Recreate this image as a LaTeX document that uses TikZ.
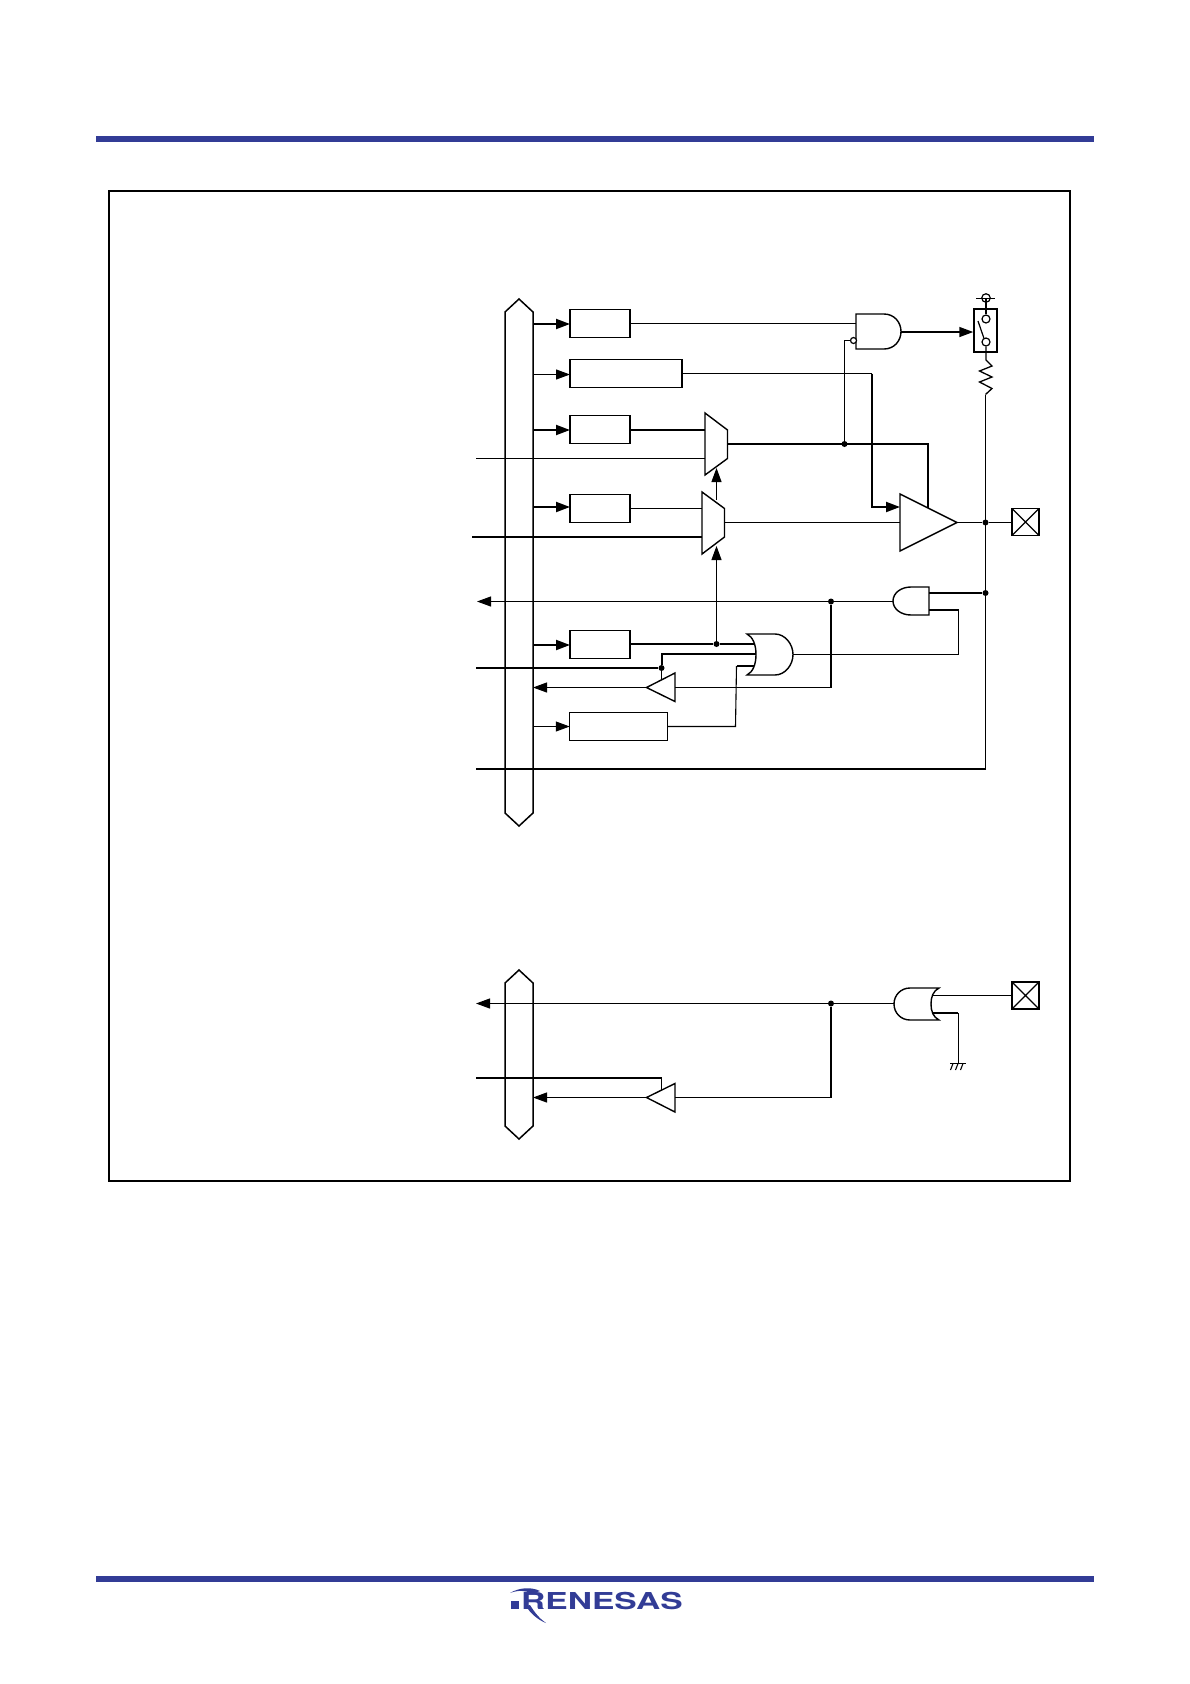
\documentclass[tikz,border=0pt]{standalone}
\usepackage{fontspec}
\setmainfont{TeX Gyre Heros}
\usetikzlibrary{arrows.meta,calc}
\definecolor{renblue}{RGB}{50,60,150}
\tikzset{
  x=1pt,y=-1pt,
  thin wire/.style={line width=1.1pt,line join=miter},
  thick wire/.style={line width=2pt,line join=miter},
  arrowed/.style={-{Triangle[length=14pt,width=10pt]}},
  regbox/.style={draw,line width=1.3pt,minimum height=28pt,inner sep=0pt,outer sep=0pt},
  gate/.style={draw,line width=1.4pt,line join=miter},
  dot/.style={circle,fill=black,draw=none,minimum size=6pt,inner sep=0pt},
  bubble/.style={circle,draw,fill=white,line width=1.2pt,inner sep=0pt},
  padbox/.style={draw,line width=1.6pt,minimum size=27pt,inner sep=0pt,outer sep=0pt},
  rulebar/.style={fill=renblue,draw=none,inner sep=0pt,minimum height=6pt,minimum width=998pt}
}
\begin{document}
\begin{tikzpicture}
\useasboundingbox (0,0) rectangle (1190,1684);
% page furniture
\node[rulebar] (toprule) at (595,139) {};
\node[rulebar] (botrule) at (595,1579) {};
\draw[line width=2pt] (109,191) rectangle (1070,1181);
\node[inner sep=0pt,text=renblue,anchor=base west] (logo) at (521,1609) {\fontsize{23.3}{23.3}\selectfont\bfseries\addfontfeature{FakeStretch=1.44}RENESAS};
\fill[renblue] (511,1601) rectangle (519,1609);
\fill[renblue] (510,1593) .. controls (520,1587) and (532,1587) .. (540,1591) -- (532,1594) .. controls (526,1590) and (518,1590) .. (510,1593) -- cycle;
\fill[renblue] (530,1605) .. controls (535,1613) and (540,1619) .. (546,1623) .. controls (538,1620) and (530,1613) .. (526,1606) -- cycle;

% ---- upper block: bus ----
\draw[line width=1.5pt,line join=miter] (519,299) -- (533,312) -- (533,813) -- (519,826) -- (505,813) -- (505,312) -- cycle;

% registers
\node[regbox,minimum width=60pt] (r1) at (600,323.5) {};
\node[regbox,minimum width=112pt] (r2) at (626,373.5) {};
\node[regbox,minimum width=60pt] (r3) at (600,429.5) {};
\node[regbox,minimum width=60pt] (r4) at (600,508.5) {};
\node[regbox,minimum width=60pt] (r5) at (600,644.5) {};
\node[regbox,minimum width=97.5pt] (r6) at (618.5,726.5) {};

% bus tap points
\coordinate (b1) at (533,324);
\coordinate (b2) at (533,374.5);
\coordinate (b3) at (533,430);
\coordinate (b4) at (533,507);
\coordinate (b5) at (533,645);
\coordinate (b6) at (533,726.5);
\draw[thick wire,arrowed] (b1) -- (b1 -| r1.west);
\draw[thin wire,arrowed] (b2) -- (b2 -| r2.west);
\draw[thick wire,arrowed] (b3) -- (b3 -| r3.west);
\draw[thick wire,arrowed] (b4) -- (b4 -| r4.west);
\draw[thick wire,arrowed] (b5) -- (b5 -| r5.west);
\draw[thin wire,arrowed] (b6) -- (b6 -| r6.west);

% multiplexers
\draw[gate] (705,413) -- (727.5,430) -- (727.5,458.5) -- (705,475) -- cycle;
\draw[gate] (702,492) -- (724.5,508.5) -- (724.5,537) -- (702,554) -- cycle;
\coordinate (m1in1) at (705,430);
\coordinate (m1in2) at (705,458.5);
\coordinate (m1out) at (727.5,444);
\coordinate (m1sel) at (716.5,468);
\coordinate (m2in1) at (702,508.5);
\coordinate (m2in2) at (702,537);
\coordinate (m2out) at (724.5,522.5);
\coordinate (m2top) at (716.5,500);
\coordinate (m2sel) at (716.5,546);

% free ends on the left
\coordinate (ext1) at (476,458.5);
\coordinate (ext2) at (472,537);
\coordinate (ext3) at (477,601.5);
\coordinate (ext4) at (476,668);
\coordinate (ext5) at (476,769);

\draw[thin wire] (r1.east |- 0,323.5) -- (856,323.5);
\draw[thin wire] (r2.east |- 0,373.5) -- (872,373.5) coordinate (c2);
\draw[thick wire] (r3.east |- m1in1) -- (m1in1);
\draw[thin wire] (ext1) -- (m1in2);
\draw[thin wire] (r4.east |- m2in1) -- (m2in1);
\draw[thick wire] (ext2) -- (m2in2);
\draw[thin wire,arrowed] (m2top) -- (m1sel);

% output buffer
\draw[gate] (900,494) -- (957,522.5) -- (900,551) -- cycle;
\coordinate (bufin) at (900,522.5);
\coordinate (bufout) at (957,522.5);
\draw[thick wire,arrowed] (c2) -- (872,507) -- (900,507);
\draw[thick wire] (m1out) -- (928,444) -- (928,508);
\node[dot] (j1) at (844.5,444) {};
\draw[thin wire] (m2out) -- (bufin);

% NAND gate and pull-up
\draw[gate,fill=white] (856,314) -- (884,314) .. controls (894,314) and (901,322) .. (901,331.5) .. controls (901,341) and (894,349) .. (884,349) -- (856,349) -- cycle;
\node[bubble,minimum size=6pt] (nb) at (853.5,340.5) {};
\draw[thin wire] (j1) -- (844.5,340.5) -- (nb);
\coordinate (nout) at (901,332);
\node[draw,line width=1.5pt,minimum width=23pt,minimum height=43pt,inner sep=0pt] (sw) at (985.5,330.5) {};
\draw[line width=1.5pt,arrowed] (nout) -- (sw.west |- nout);
\node[bubble,minimum size=8pt] (sw1) at (986,319) {};
\node[bubble,minimum size=8pt] (sw2) at (986,342) {};
\draw[line width=1.2pt] (978,321) -- (984,338.5);
\node[bubble,fill=none,minimum size=8.5pt] (vdd) at (986,298) {};
\draw[thin wire] (976,298.5) -- (995,298.5);
\draw[thin wire] (vdd.center) -- (sw1);
\draw[line width=1.3pt,line join=miter] (sw2) -- (986,360) -- (992,366) -- (979.5,371) -- (992,377) -- (979.5,382) -- (992,388.5) -- (985.5,394.5);
\draw[thin wire] (985.5,394.5) -- (985.5,769);
\draw[line width=2pt] (986,769) -- (ext5);

% I/O pad
\node[padbox] (pad1) at (1025.5,522) {};
\draw[line width=1.2pt] (pad1.north west) -- (pad1.south east) (pad1.north east) -- (pad1.south west);
\node[dot] (j2) at (985.5,522.5) {};
\draw[thin wire] (bufout) -- (j2) -- (pad1.west |- j2);

% input AND
\draw[gate,fill=white] (929,587) -- (911,587) .. controls (901,587) and (893,593) .. (893,601) .. controls (893,609) and (901,615) .. (911,615) -- (929,615) -- cycle;
\coordinate (aout) at (893,601.5);
\node[dot] (j3) at (985.5,593) {};
\draw[thick wire] (929,593) -- (j3);
\node[dot] (j4) at (831,601.5) {};
\draw[thin wire,arrowed] (aout) -- (ext3);
\draw[thick wire] (j4) -- (831,688);
\draw[thin wire] (831,687.5) -- (675,687.5);

% OR gate
\draw[gate,fill=white] (747,634) .. controls (753,637) and (756,645) .. (756,654.5) .. controls (756,664) and (753,672) .. (747,675) -- (775,675) .. controls (785,675) and (793,665) .. (793,654.5) .. controls (793,644) and (785,634) .. (775,634) -- cycle;
\coordinate (orout) at (793,654.5);
\draw[thin wire] (orout) -- (958.5,654.5) -- (958.5,610);
\draw[thick wire] (959,610) -- (929,610);
\node[dot] (j5) at (716.5,644) {};
\draw[thick wire] (r5.east |- j5) -- (j5) -- (755,644);
\draw[thin wire,arrowed] (j5) -- (m2sel);

% small buffer
\draw[gate] (675,673) -- (675,701.5) -- (646.5,687.5) -- cycle;
\coordinate (sb1) at (646.5,687.5);
\coordinate (b7) at (533,687.5);
\draw[thin wire,arrowed] (sb1) -- (b7);
\node[dot] (j6) at (661.5,668) {};
\draw[thick wire] (ext4) -- (j6);
\draw[thick wire] (755.5,654) -- (661.5,654) -- (j6);
\draw[thin wire] (j6) -- (661.5,679);
\draw[thin wire] (r6.east) -- (735.5,726.5) -- (736.5,666);
\draw[thick wire] (736.5,666) -- (754,666);

% ---- lower block ----
\draw[line width=1.5pt,line join=miter] (519,970) -- (533,983) -- (533,1126) -- (519,1139) -- (505,1126) -- (505,983) -- cycle;
\draw[gate,fill=white] (939,988) -- (910,988) .. controls (901,988) and (894,995) .. (894,1004) .. controls (894,1013) and (901,1020) .. (910,1020) -- (939,1020) .. controls (933,1017) and (931,1011) .. (931,1004) .. controls (931,997) and (933,991) .. (939,988) -- cycle;
\coordinate (g2out) at (894,1003.5);
\coordinate (ext6) at (476,1003.5);
\draw[thin wire,arrowed] (g2out) -- (ext6);
\node[dot] (j7) at (831,1003.5) {};
\draw[gate] (675,1083.5) -- (675,1112) -- (646.5,1097.5) -- cycle;
\draw[thick wire] (j7) -- (831,1098);
\draw[thin wire] (831,1097.5) -- (675,1097.5);
\coordinate (sb2) at (646.5,1097.5);
\coordinate (b8) at (533,1097.5);
\draw[thin wire,arrowed] (sb2) -- (b8);
\coordinate (ext7) at (476,1078);
\draw[thick wire] (ext7) -- (661.5,1078);
\draw[thin wire] (661.5,1078) -- (661.5,1090);
\node[padbox] (pad2) at (1025.5,995.5) {};
\draw[line width=1.2pt] (pad2.north west) -- (pad2.south east) (pad2.north east) -- (pad2.south west);
\draw[thin wire] (932,995.5) -- (pad2.west |- 0,995.5);
\draw[thick wire] (933,1013) -- (958,1013);
\draw[thin wire] (958.5,1013) -- (958.5,1063.5);
\draw[thin wire] (950,1063.5) -- (966,1063.5);
\draw[thin wire] (953,1063.5) -- (950.5,1070) (958,1063.5) -- (955.5,1070) (963,1063.5) -- (960.5,1070);
\end{tikzpicture}
\end{document}
